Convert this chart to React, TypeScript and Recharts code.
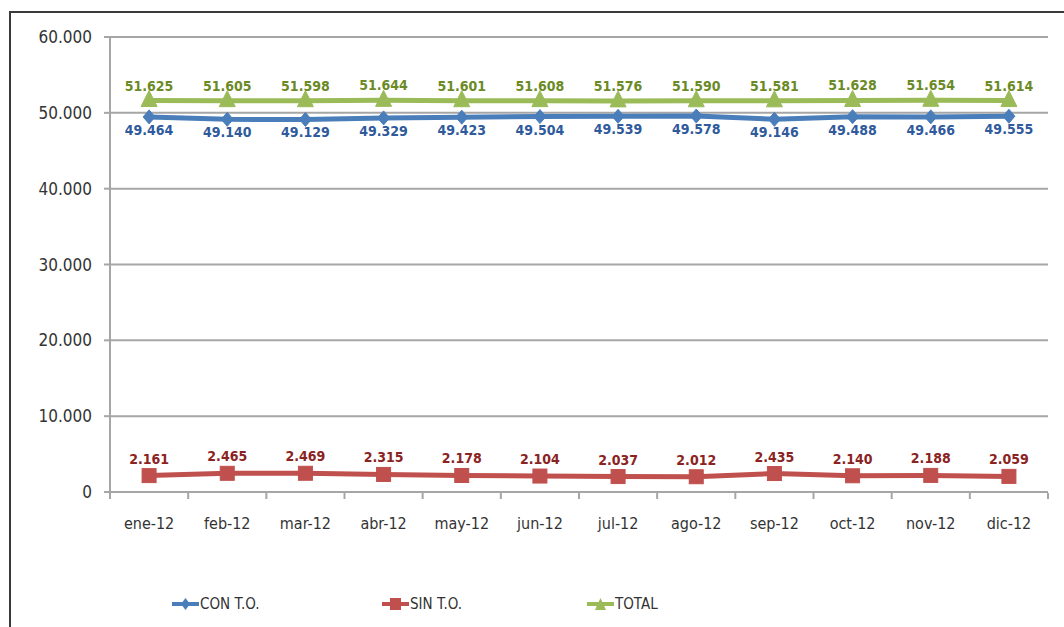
import React from 'react';
import { LineChart, Line, XAxis, YAxis, CartesianGrid, LabelList } from 'recharts';

const MONTHS = ['ene-12', 'feb-12', 'mar-12', 'abr-12', 'may-12', 'jun-12', 'jul-12', 'ago-12', 'sep-12', 'oct-12', 'nov-12', 'dic-12'];
const CON_TO = [49464, 49140, 49129, 49329, 49423, 49504, 49539, 49578, 49146, 49488, 49466, 49555];
const SIN_TO = [2161, 2465, 2469, 2315, 2178, 2104, 2037, 2012, 2435, 2140, 2188, 2059];
const TOTAL = [51625, 51605, 51598, 51644, 51601, 51608, 51576, 51590, 51581, 51628, 51654, 51614];
const Y_TICKS = [0, 10000, 20000, 30000, 40000, 50000, 60000];

const data = MONTHS.map((m, i) => ({ month: m, con: CON_TO[i], sin: SIN_TO[i], total: TOTAL[i] }));

const BLUE = '#4a7ebb';
const RED = '#c0504d';
const GREEN = '#9bbb59';
const GRID = '#a6a6a6';
const FONT = "'Liberation Sans Narrow', 'DejaVu Sans Condensed', 'Arial Narrow', sans-serif";

// spanish style thousands separator, also for 4 digit numbers
const fmt = (v: number) => {
  const s = String(Math.round(v));
  return s.replace(/\B(?=(\d{3})+(?!\d))/g, '.');
};

const diamond = (props: any) => {
  const { cx, cy, index } = props;
  const r = 7;
  return <path key={`d-${index}`} d={`M${cx},${cy - r}L${cx + r - 1},${cy}L${cx},${cy + r}L${cx - r + 1},${cy}Z`} fill={BLUE} stroke={BLUE} />;
};

const square = (props: any) => {
  const { cx, cy, index } = props;
  const s = 7;
  return <rect key={`s-${index}`} x={cx - s} y={cy - s} width={s * 2} height={s * 2} fill={RED} stroke={RED} />;
};

const triangle = (props: any) => {
  const { cx, cy, index } = props;
  const r = 8;
  return <path key={`t-${index}`} d={`M${cx},${cy - r - 2}L${cx + r},${cy + r - 2}L${cx - r},${cy + r - 2}Z`} fill={GREEN} stroke={GREEN} />;
};

// month label plus the tick marks on the band edges (like excel)
const MonthTick = (props: any) => {
  const { x, y, payload, index, width, visibleTicksCount } = props;
  const bw = width / visibleTicksCount;
  const top = y - 25;
  return (
    <g>
      <line x1={x - bw / 2} y1={top} x2={x - bw / 2} y2={top + 6} stroke={GRID} strokeWidth={2} />
      {index === visibleTicksCount - 1 && (
        <line x1={x + bw / 2} y1={top} x2={x + bw / 2} y2={top + 6} stroke={GRID} strokeWidth={2} />
      )}
      <text x={x} y={y} dy="0.71em" textAnchor="middle" fill="#333" fontSize={16} fontFamily={FONT}>
        {payload.value}
      </text>
    </g>
  );
};

const legendItems = [
  { name: 'CON T.O.', color: BLUE, left: 172, shape: 'diamond' },
  { name: 'SIN T.O.', color: RED, left: 382, shape: 'square' },
  { name: 'TOTAL', color: GREEN, left: 587, shape: 'triangle' },
];

const LegendIcon = ({ color, shape }: { color: string; shape: string }) => (
  <svg width={27} height={14} style={{ display: 'block' }}>
    <line x1={0} y1={7} x2={27} y2={7} stroke={color} strokeWidth={4} />
    {shape === 'diamond' && <path d="M13.5,1L18,7L13.5,13L9,7Z" fill={color} />}
    {shape === 'square' && <rect x={8} y={1} width={11} height={12} fill={color} />}
    {shape === 'triangle' && <path d="M13.5,1L19,13L8,13Z" fill={color} />}
  </svg>
);

export default function App() {
  return (
    <div style={{ position: 'absolute', left: 0, top: 0, width: 1064, height: 627, overflow: 'hidden', background: '#fff' }}>
      <div
        style={{
          position: 'absolute', left: 9, top: 11, width: 1100, height: 700,
          borderLeft: '2px solid #3a3a3a', borderTop: '2px solid #3a3a3a',
        }}
      />
      <div style={{ position: 'absolute', left: 0, top: 0 }}>
        <LineChart width={1064} height={627} data={data} margin={{ top: 37, right: 16, left: 50, bottom: 95 }}>
          <CartesianGrid vertical={false} stroke={GRID} strokeWidth={2} />
          <XAxis
            dataKey="month"
            scale="band"
            height={40}
            axisLine={{ stroke: GRID, strokeWidth: 2 }}
            tickLine={false}
            tickSize={0}
            tickMargin={26}
            tick={<MonthTick />}
            interval={0}
          />
          <YAxis
            width={60}
            domain={[0, 60000]}
            ticks={Y_TICKS}
            tickFormatter={fmt}
            axisLine={{ stroke: GRID, strokeWidth: 2 }}
            tickLine={{ stroke: GRID, strokeWidth: 2 }}
            tickSize={6}
            tickMargin={12}
            tick={{ fill: '#333', fontSize: 17, fontFamily: FONT }}
          />
          <Line dataKey="con" stroke={BLUE} strokeWidth={5} dot={diamond} isAnimationActive={false}>
            <LabelList dataKey="con" position="bottom" offset={8} formatter={fmt as any}
              style={{ fill: '#2f5a9c', fontSize: 14, fontWeight: 'bold', fontFamily: FONT }} />
          </Line>
          <Line dataKey="sin" stroke={RED} strokeWidth={5} dot={square} isAnimationActive={false}>
            <LabelList dataKey="sin" position="top" offset={12} formatter={fmt as any}
              style={{ fill: '#8b2323', fontSize: 14, fontWeight: 'bold', fontFamily: FONT }} />
          </Line>
          <Line dataKey="total" stroke={GREEN} strokeWidth={5} dot={triangle} isAnimationActive={false}>
            <LabelList dataKey="total" position="top" offset={10} formatter={fmt as any}
              style={{ fill: '#6b8a25', fontSize: 14, fontWeight: 'bold', fontFamily: FONT }} />
          </Line>
        </LineChart>
      </div>
      {legendItems.map((it) => (
        <div
          key={it.name}
          style={{
            position: 'absolute', left: it.left, top: 595, display: 'flex', alignItems: 'center',
            fontFamily: FONT, fontSize: 15, color: '#333',
          }}
        >
          <LegendIcon color={it.color} shape={it.shape} />
          <span style={{ marginLeft: 1 }}>{it.name}</span>
        </div>
      ))}
    </div>
  );
}
